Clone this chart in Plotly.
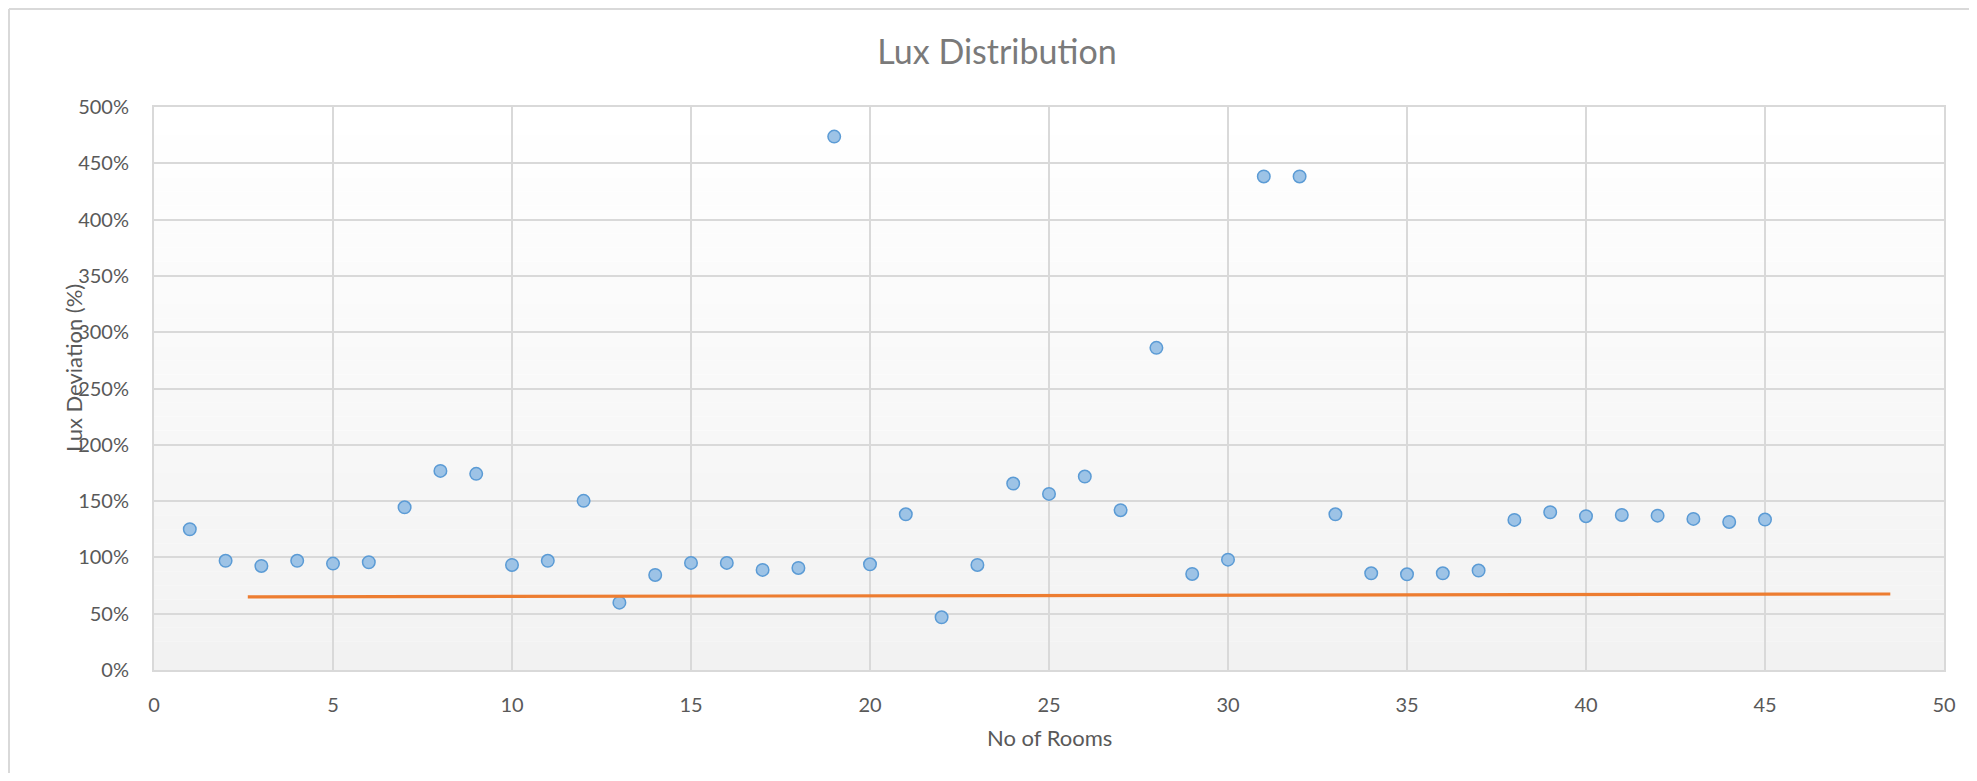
import plotly.graph_objects as go

# ---- data ----
rooms = list(range(1, 46))
lux_deviation = [
    1.25, 0.97, 0.924, 0.97, 0.945, 0.957, 1.445, 1.768, 1.742, 0.933,
    0.97, 1.502, 0.598, 0.844, 0.951, 0.951, 0.889, 0.906, 4.737, 0.939,
    1.383, 0.468, 0.933, 1.656, 1.564, 1.718, 1.419, 2.861, 0.853, 0.980,
    4.383, 4.383, 1.383, 0.859, 0.850, 0.859, 0.883, 1.333, 1.401, 1.366,
    1.377, 1.371, 1.342, 1.315, 1.336,
]
ref_line_x = [2.62, 48.5]
ref_line_y = [0.649, 0.675]

x_ticks = [0, 5, 10, 15, 20, 25, 30, 35, 40, 45, 50]
y_ticks = [0, 0.5, 1.0, 1.5, 2.0, 2.5, 3.0, 3.5, 4.0, 4.5, 5.0]

FONT = "Lato, 'Open Sans', sans-serif"
OFF = 8  # default page body margin
W, H = 1961, 765
# target plot box in page pixels
P_L, P_R, P_T, P_B = 154, 1944, 107, 670
ML = P_L - OFF
MT = P_T - OFF
MR = OFF + W - P_R
MB = OFF + H - P_B
pw = P_R - P_L
ph = P_B - P_T


def paper_x(px):
    return (px - P_L) / pw


def paper_y(py):
    return (P_B - py) / ph


fig = go.Figure()
fig.add_trace(go.Scatter(
    x=rooms, y=lux_deviation, mode="markers",
    marker=dict(size=12.5, color="#9dc3e6", line=dict(color="#5b9bd5", width=1.5)),
    showlegend=False, hoverinfo="x+y",
))
fig.add_trace(go.Scatter(
    x=ref_line_x, y=ref_line_y, mode="lines",
    line=dict(color="#ed7d31", width=3.2),
    showlegend=False,
))

# gradient plot background (white top -> light gray bottom)
shapes = []
n = 40
for i in range(n):
    t = i / (n - 1)
    c = int(round(242 + (255 - 242) * t))
    shapes.append(dict(
        type="rect", xref="x domain", yref="y domain",
        x0=0, x1=1, y0=i / n, y1=(i + 1) / n,
        fillcolor=f"rgb({c},{c},{c})", line=dict(width=0), layer="below",
    ))

# outer chart-area frame (left and top edges)
fx = paper_x(9)
fy = paper_y(9)
shapes.append(dict(type="line", xref="paper", yref="paper",
                   x0=fx, x1=fx, y0=-1, y1=fy,
                   line=dict(color="#d9d9d9", width=2)))
shapes.append(dict(type="line", xref="paper", yref="paper",
                   x0=fx, x1=1.5, y0=fy, y1=fy,
                   line=dict(color="#d9d9d9", width=2)))

annotations = [
    dict(text="No of Rooms", xref="paper", yref="paper",
         x=0.5, y=paper_y(737), xanchor="center", yanchor="middle",
         showarrow=False, font=dict(family=FONT, size=22, color="#595959")),
    dict(text="Lux Deviation (%)", xref="paper", yref="paper",
         x=paper_x(73), y=paper_y(368), xanchor="center", yanchor="middle",
         textangle=-90, showarrow=False,
         font=dict(family=FONT, size=22, color="#595959")),
]

fig.update_layout(
    width=W, height=H,
    margin=dict(l=ML, r=MR, t=MT, b=MB),
    paper_bgcolor="white", plot_bgcolor="white",
    title=dict(text="Lux Distribution", x=(997 - OFF) / W, xanchor="center",
               y=1 - (52 - OFF) / H, yanchor="middle",
               font=dict(family=FONT, size=34, color="#7a7a7a")),
    font=dict(family=FONT, size=20, color="#595959"),
    shapes=shapes, annotations=annotations,
    xaxis=dict(range=[0, 50], tickvals=x_ticks, showgrid=True,
               gridcolor="#d9d9d9", gridwidth=1.5, showline=True, mirror=True,
               linecolor="#d9d9d9", linewidth=2, zeroline=False, ticks="",
               ticklabelstandoff=16, tickfont=dict(family=FONT, size=20, color="#595959")),
    yaxis=dict(range=[0, 5], tickvals=y_ticks, tickformat=".0%", showgrid=True,
               gridcolor="#d9d9d9", gridwidth=1.5, showline=True, mirror=True,
               linecolor="#d9d9d9", linewidth=2, zeroline=False, ticks="",
               ticklabelstandoff=19, tickfont=dict(family=FONT, size=20, color="#595959")),
)

fig.write_html("out.html")
